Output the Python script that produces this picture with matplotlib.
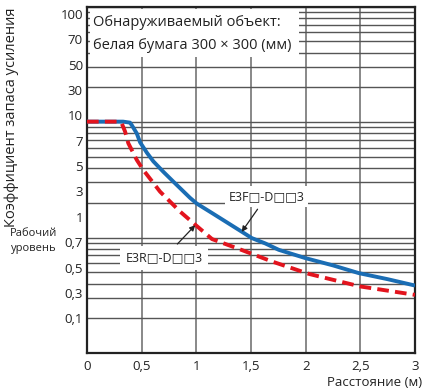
import numpy as np
import matplotlib
matplotlib.use('Agg')
import matplotlib.pyplot as plt
from matplotlib.ticker import LogLocator, NullFormatter, FixedLocator
from matplotlib.patches import Rectangle

plt.rcParams['font.family'] = ['Open Sans', 'DejaVu Sans']

# ---- data ----
blue_x = [0, 0.33, 0.393, 0.41, 0.455, 0.485, 0.549, 0.607, 0.70, 0.79, 0.942, 1.004, 1.144, 1.418, 1.507, 1.63, 1.754, 1.997, 2.25, 2.486, 2.75, 3.0]
blue_y = [10.1, 10.1, 9.9, 9.4, 8.0, 6.7, 5.41, 4.57, 3.70, 3.05, 2.21, 1.97, 1.63, 1.12, 0.99, 0.89, 0.783, 0.664, 0.574, 0.492, 0.436, 0.384]
red_x = [0, 0.29, 0.317, 0.348, 0.378, 0.455, 0.515, 0.668, 0.851, 0.995, 1.144, 1.40, 1.693, 2.028, 2.13, 2.5, 3.0]
red_y = [10.1, 10.1, 9.8, 8.3, 6.56, 4.71, 3.85, 2.5, 1.68, 1.28, 0.97, 0.79, 0.62, 0.485, 0.459, 0.377, 0.319]

x_ticks = [0, 0.5, 1, 1.5, 2, 2.5, 3]
x_ticklabels = ['0', '0,5', '1', '1,5', '2', '2,5', '3']
y_ticklabels = ['100', '70', '50', '30', '10', '7', '5', '3', '1', '0,7', '0,5', '0,3', '0,1']

W, H = 424, 390
fig = plt.figure(figsize=(W / 100, H / 100), dpi=100)
ax = fig.add_axes([87 / W, (H - 353) / H, 328 / W, 346.3 / H])

ax.set_yscale('log')
ax.set_xlim(0, 3)
ax.set_ylim(0.1, 100)

# gridlines: minor log ticks 1..9 each decade
ax.yaxis.set_minor_locator(LogLocator(base=10, subs=np.arange(1, 10)))
ax.yaxis.set_minor_formatter(NullFormatter())
ax.grid(which='minor', axis='y', color='#555555', lw=1.0, zorder=1)
ax.set_xticks(x_ticks)
ax.set_xticklabels(x_ticklabels)
ax.grid(which='major', axis='x', color='#888888', lw=1.4, zorder=1)

# y tick labels (evenly spaced as in the reference)
f_top, f_bot = 0.979, 0.1002
fr = np.linspace(f_top, f_bot, len(y_ticklabels))
ax.yaxis.set_major_locator(FixedLocator(10 ** (-1 + 3 * fr)))
ax.set_yticklabels(y_ticklabels)
ax.tick_params(axis='both', which='both', length=0, labelsize=9.5, colors='#222222')
ax.tick_params(axis='y', pad=3)
ax.tick_params(axis='x', pad=5)

for s in ax.spines.values():
    s.set_linewidth(1.6)
    s.set_color('#222222')

ax.plot(blue_x, blue_y, color='#1a6db4', lw=2.8, zorder=4, solid_capstyle='butt',
        solid_joinstyle='round')
ax.plot(red_x, red_y, color='#e3141e', lw=2.8, ls=(0, (3.0, 1.6)), zorder=5)

# annotation box
ax.add_patch(Rectangle((0.009, 0.855), 0.637, 0.138, transform=ax.transAxes,
                       facecolor='white', edgecolor='none', zorder=3))
ax.text(0.018, 0.953, 'Обнаруживаемый объект:', transform=ax.transAxes,
        fontsize=10.5, va='center', ha='left', zorder=6, color='#222222')
ax.text(0.018, 0.889, 'белая бумага 300 × 300 (мм)', transform=ax.transAxes,
        fontsize=10.5, va='center', ha='left', zorder=6, color='#222222')

# series labels
ax.annotate('E3F□-D□□3', xy=(1.415, 1.12), xytext=(1.64, 2.26),
            fontsize=9, ha='center', va='center', color='#222222', zorder=6,
            bbox=dict(boxstyle='square,pad=0.3', fc='white', ec='none'),
            arrowprops=dict(arrowstyle='-|>', color='#222222', lw=0.9,
                            mutation_scale=8, shrinkA=2, shrinkB=0))
ax.annotate('E3R□-D□□3', xy=(0.99, 1.28), xytext=(0.704, 0.663),
            fontsize=9, ha='center', va='center', color='#222222', zorder=6,
            bbox=dict(boxstyle='square,pad=0.45', fc='white', ec='none'),
            arrowprops=dict(arrowstyle='-|>', color='#222222', lw=0.9,
                            mutation_scale=8, shrinkA=2, shrinkB=0))

fig.text(12 / W, 1 - 117 / H, 'Коэффициент запаса усиления', rotation=90,
         ha='center', va='center', fontsize=10.5, color='#222222')
fig.text(34 / W, 1 - 241 / H, 'Рабочий\nуровень', ha='center', va='center',
         fontsize=8, color='#222222', linespacing=1.5)
fig.text(422 / W, 1 - 382 / H, 'Расстояние (м)', ha='right', va='center',
         fontsize=9.5, color='#222222')

fig.savefig('out.png', dpi=100)
